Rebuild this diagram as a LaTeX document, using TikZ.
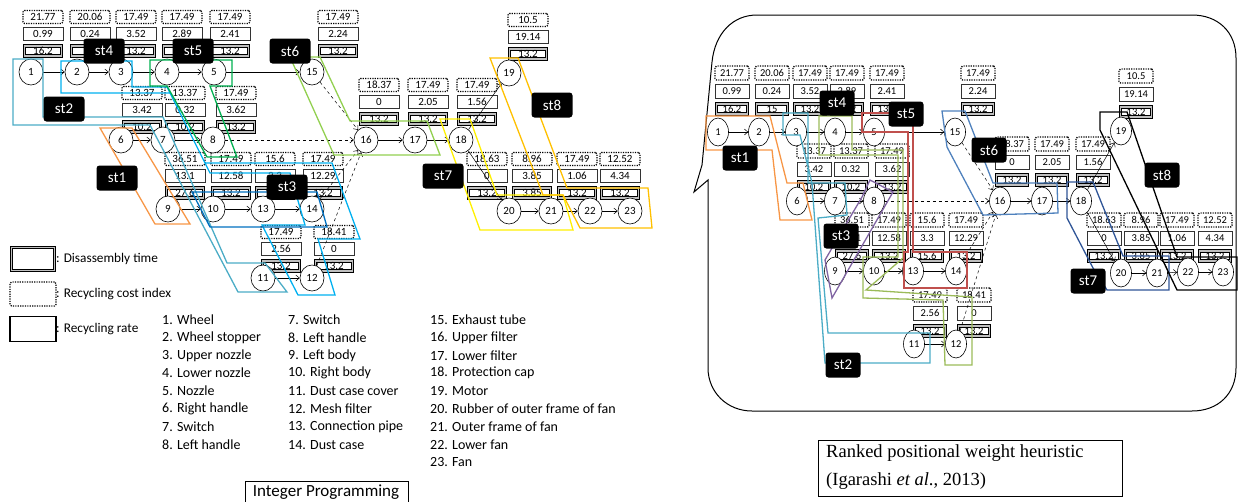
\documentclass[tikz,border=0pt]{standalone}
\usepackage{fontspec}
\setmainfont{Carlito}
\newfontfamily\tnr{Liberation Serif}
\usetikzlibrary{shapes.geometric,arrows.meta}
\definecolor{cA}{HTML}{F79646}
\definecolor{cB}{HTML}{4BACC6}
\definecolor{cC}{HTML}{0070C0}
\definecolor{cD}{HTML}{00B0F0}
\definecolor{cE}{HTML}{00B050}
\definecolor{cF}{HTML}{92D050}
\definecolor{cG}{HTML}{FFF000}
\definecolor{cH}{HTML}{FFC000}
\definecolor{rC}{HTML}{8064A2}
\definecolor{rD}{HTML}{9BBB59}
\definecolor{rE}{HTML}{C0504D}
\definecolor{rF}{HTML}{4F81BD}
\definecolor{rG}{HTML}{2F5597}
\newcommand\tripL[6]{%
 \node[dbox,minimum width=37pt,font=\fontsize{11}{11}\selectfont] (#1d) at (#2,#3) {#6};
 \node[mbox,minimum width=40pt,font=\fontsize{11}{11}\selectfont] (#1m) at (#2,#3-17) {#5};
 \node[cbox,minimum width=40pt,font=\fontsize{11}{11}\selectfont] (#1c) at (#2,#3-34) {#4};}
\newcommand\tripR[6]{%
 \node[dbox,minimum width=31pt,minimum height=10pt] (#1d) at (#2,#3) {#6};
 \node[mbox,minimum width=34pt,minimum height=14pt] (#1m) at (#2,#3-18) {#5};
 \node[cbox,minimum width=34pt,minimum height=14pt] (#1c) at (#2,#3-36) {#4};}
\begin{document}
\begin{tikzpicture}[x=1pt,y=-1pt,
 nd/.style={draw,ellipse,line width=0.6pt,minimum width=24pt,minimum height=26pt,inner sep=0pt,font=\fontsize{11}{11}\selectfont,fill=white},
 ndr/.style={nd,minimum width=21pt,minimum height=28pt,font=\fontsize{10.5}{10.5}\selectfont},
 arr/.style={-{Straight Barb[length=3.5pt,width=6pt]},line width=0.5pt},
 darr/.style={arr,dashed},
 dbox/.style={draw=black,line width=0.8pt,double=gray!50,double distance=1.6pt,minimum height=10pt,inner sep=0pt,font=\fontsize{10.5}{10.5}\selectfont},
 mbox/.style={draw=black!80,line width=0.8pt,minimum height=13pt,inner sep=0pt,font=\fontsize{10.5}{10.5}\selectfont},
 cbox/.style={draw=black,line width=1.4pt,dash pattern=on 1.2pt off 1.2pt,rounded corners=1.5pt,minimum height=13pt,inner sep=0pt,font=\fontsize{10.5}{10.5}\selectfont},
 lbl/.style={fill=black,text=white,rounded corners=3pt,minimum width=41pt,minimum height=25pt,inner sep=0pt,font=\fontsize{15}{15}\selectfont},
 lblr/.style={lbl,minimum width=35pt},
 st/.style={line width=1.3pt},
 txt/.style={anchor=west,inner sep=0pt,font=\fontsize{14}{14}\selectfont},
 lgt/.style={anchor=west,inner sep=0pt,font=\fontsize{13.3}{13.3}\selectfont}]
\useasboundingbox (0,0) rectangle (1238,501);
% ================= LEFT PANEL =================
\tripL{Lb1}{43}{51}{21.77}{0.99}{16.2}
\tripL{Lb2}{90}{51}{20.06}{0.24}{15}
\tripL{Lb3}{136}{51}{17.49}{3.52}{13.2}
\tripL{Lb4}{182}{51}{17.49}{2.89}{13.2}
\tripL{Lb5}{230}{51}{17.49}{2.41}{13.2}
\tripL{Lb15}{338}{51}{17.49}{2.24}{13.2}
\tripL{Lb19}{528}{54}{10.5}{19.14}{13.2}
\tripL{Lb6}{142}{127}{13.37}{3.42}{10.2}
\tripL{Lb7}{185}{127}{13.37}{0.32}{10.2}
\tripL{Lb8}{236}{127}{17.49}{3.62}{13.2}
\tripL{Lb16}{379}{119}{18.37}{0}{13.2}
\tripL{Lb17}{428}{119}{17.49}{2.05}{13.2}
\tripL{Lb18}{477}{119}{17.49}{1.56}{13.2}
\tripL{Lb9}{185}{193}{36.51}{13.1}{27.6}
\tripL{Lb10}{231}{193}{17.49}{12.58}{13.2}
\tripL{Lb13}{275}{193}{15.6}{3.3}{15.6}
\tripL{Lb14}{323}{193}{17.49}{12.29}{13.2}
\tripL{Lb20}{487}{193}{18.63}{0}{13.2}
\tripL{Lb21}{532}{193}{8.96}{3.85}{3.85}
\tripL{Lb22}{577}{193}{17.49}{1.06}{13.2}
\tripL{Lb23}{620}{193}{12.52}{4.34}{13.2}
\tripL{Lb11}{281}{266}{17.49}{2.56}{13.2}
\tripL{Lb12}{334}{266}{18.41}{0}{13.2}
\node[nd] (L1) at (31,72) {1};
\node[nd] (L2) at (77,72) {2};
\node[nd] (L3) at (121,72) {3};
\node[nd] (L4) at (167,72) {4};
\node[nd] (L5) at (214,72) {5};
\node[nd] (L15) at (312,72) {15};
\node[nd] (L19) at (509,73) {19};
\node[nd] (L6) at (121,140) {6};
\node[nd] (L7) at (163,140) {7};
\node[nd] (L8) at (213,140) {8};
\node[nd] (L16) at (366,140) {16};
\node[nd] (L17) at (415,140) {17};
\node[nd] (L18) at (461,140) {18};
\node[nd] (L9) at (168,209) {9};
\node[nd] (L10) at (213,209) {10};
\node[nd] (L13) at (263,209) {13};
\node[nd] (L14) at (312,209) {14};
\node[nd] (L20) at (509,211) {20};
\node[nd] (L21) at (551,211) {21};
\node[nd] (L22) at (590,211) {22};
\node[nd] (L23) at (630,211) {23};
\node[nd] (L11) at (263,278) {11};
\node[nd] (L12) at (312,278) {12};
\draw[arr] (L1)--(L2); \draw[arr] (L2)--(L3); \draw[arr] (L3)--(L4); \draw[arr] (L4)--(L5); \draw[arr] (L5)--(L15);
\draw[arr] (L6)--(L7); \draw[arr] (L7)--(L8);
\draw[darr] (L8)--(L16); \draw[darr] (L15)--(L16); \draw[darr] (L14)--(L16); \draw[darr] (L12)--(L16);
\draw[arr] (L16)--(L17); \draw[arr] (L17)--(L18);
\draw[arr] (L18)--(L19); \draw[arr] (L18)--(L20);
\draw[arr] (L9)--(L10); \draw[arr] (L10)--(L13); \draw[arr] (L13)--(L14);
\draw[arr] (L11)--(L12);
\draw[arr] (L20)--(L21); \draw[arr] (L21)--(L22); \draw[arr] (L22)--(L23);
% stations left
\draw[st,cA] (100,128)--(132,128)--(190,224)--(155,224)--cycle;
\draw[st,cB] (13,59)--(43,59)--(43,117)--(163,117)--(227,263)--(265,263)--(287,292)--(238,292)--(150,125)--(13,125)--cycle;
\draw[st,cD] (61,61)--(132,61)--(132,87)--(167,87)--(205,163)--(332,163)--(360,239)--(318,239)--(335,295)--(298,295)--(262,225)--(305,225)--(290,173)--(210,173)--(170,93)--(61,93)--cycle;
\draw[st,cC] (192,192)--(317,192)--(327,227)--(210,227)--cycle;
\draw[st,cE] (150,60)--(232,60)--(232,86)--(210,86)--(237,157)--(207,157)--(167,86)--(150,86)--cycle;
\draw[st,cF] (290,57)--(320,57)--(350,121)--(427,121)--(440,155)--(334,155)--cycle;
\draw[st,cG] (440,119)--(470,119)--(497,195)--(563,195)--(573,230)--(480,230)--cycle;
\draw[st,cH] (490,58)--(518,58)--(567,188)--(648,188)--(652,228)--(580,228)--(563,195)--(543,195)--cycle;
\node[lbl] (Ls1) at (117,178) {st1};
\node[lbl] (Ls2) at (64,109) {st2};
\node[lbl] (Ls3) at (287,187) {st3};
\node[lbl] (Ls4) at (104,51) {st4};
\node[lbl] (Ls5) at (193,51) {st5};
\node[lbl] (Ls6) at (290,51) {st6};
\node[lbl] (Ls7) at (443,176) {st7};
\node[lbl] (Ls8) at (552,105) {st8};
% legend
\node[dbox,minimum width=43pt,minimum height=23pt] (LgA) at (33,259) {};
\node[cbox,minimum width=46pt,minimum height=24pt] (LgB) at (33,294) {};
\node[draw,line width=1.4pt,minimum width=46pt,minimum height=25pt,inner sep=0pt] (LgC) at (33,329) {};
\node[lgt] (LgAt) at (56,259) {: Disassembly time};
\node[lgt] (LgBt) at (56,294) {: Recycling cost index};
\node[lgt] (LgCt) at (56,329) {: Recycling rate};
\node[txt] (p1) at (162,320) {1. Wheel};
\node[txt] (p2) at (162,338) {2. Wheel stopper};
\node[txt] (p3) at (162,356) {3. Upper nozzle};
\node[txt] (p4) at (162,373) {4. Lower nozzle};
\node[txt] (p5) at (162,391) {5. Nozzle};
\node[txt] (p6) at (162,409) {6. Right handle};
\node[txt] (p7) at (162,427) {7. Switch};
\node[txt] (p8) at (162,445) {8. Left handle};
\node[txt] (p9) at (288,320) {7. Switch};
\node[txt] (p10) at (288,338) {8. Left handle};
\node[txt] (p11) at (288,356) {9. Left body};
\node[txt] (p12) at (288,373) {10. Right body};
\node[txt] (p13) at (288,391) {11. Dust case cover};
\node[txt] (p14) at (288,409) {12. Mesh filter};
\node[txt] (p15) at (288,427) {13. Connection pipe};
\node[txt] (p16) at (288,445) {14. Dust case};
\node[txt] (p17) at (430,320) {15. Exhaust tube};
\node[txt] (p18) at (430,338) {16. Upper filter};
\node[txt] (p19) at (430,356) {17. Lower filter};
\node[txt] (p20) at (430,373) {18. Protection cap};
\node[txt] (p21) at (430,391) {19. Motor};
\node[txt] (p22) at (430,409) {20. Rubber of outer frame of fan};
\node[txt] (p23) at (430,427) {21. Outer frame of fan};
\node[txt] (p24) at (430,445) {22. Lower fan};
\node[txt] (p25) at (430,462) {23. Fan};
\node[draw,line width=0.7pt,anchor=north west,minimum width=163pt,minimum height=26pt,inner sep=0pt] (IPb) at (245,481) {};
\node[font=\fontsize{17}{17}\selectfont] (IP) at (326,492) {Integer Programming};
% ================= RIGHT PANEL =================
\draw[line width=1pt] (757,15) -- (1192,15) .. controls (1218,15) and (1236,32) .. (1236,58) -- (1236,368) .. controls (1236,394) and (1218,411) .. (1192,411) -- (752,411) .. controls (727,411) and (708,392) .. (708,368) -- (708,180) -- (694,192) -- (702,165) -- (712,62) .. controls (715,33) and (733,15) .. (757,15) -- cycle;
\tripR{Rb1}{732}{109}{21.77}{0.99}{16.2}
\tripR{Rb2}{772}{109}{20.06}{0.24}{15}
\tripR{Rb3}{810}{109}{17.49}{3.52}{13.2}
\tripR{Rb4}{847}{109}{17.49}{2.89}{13.2}
\tripR{Rb5}{887}{109}{17.49}{2.41}{13.2}
\tripR{Rb15}{978}{109}{17.49}{2.24}{13.2}
\tripR{Rb19}{1136}{112}{10.5}{19.14}{13.2}
\tripR{Rb6}{814}{187}{13.37}{3.42}{10.2}
\tripR{Rb7}{851}{187}{13.37}{0.32}{10.2}
\tripR{Rb8}{892}{187}{17.49}{3.62}{13.2}
\tripR{Rb16}{1012}{180}{18.37}{0}{13.2}
\tripR{Rb17}{1052}{180}{17.49}{2.05}{13.2}
\tripR{Rb18}{1093}{180}{17.49}{1.56}{13.2}
\tripR{Rb9}{852}{256}{36.51}{13.1}{27.6}
\tripR{Rb10}{889}{256}{17.49}{12.58}{13.2}
\tripR{Rb13}{927}{256}{15.6}{3.3}{15.6}
\tripR{Rb14}{966}{256}{17.49}{12.29}{13.2}
\tripR{Rb20}{1104}{256}{18.63}{0}{13.2}
\tripR{Rb21}{1141}{256}{8.96}{3.85}{3.85}
\tripR{Rb22}{1177}{256}{17.49}{1.06}{13.2}
\tripR{Rb23}{1215}{256}{12.52}{4.34}{13.2}
\tripR{Rb11}{930}{331}{17.49}{2.56}{13.2}
\tripR{Rb12}{974}{331}{18.41}{0}{13.2}
\node[ndr] (R1) at (718,132) {1};
\node[ndr] (R2) at (759,132) {2};
\node[ndr] (R3) at (796,132) {3};
\node[ndr] (R4) at (835,132) {4};
\node[ndr] (R5) at (874,132) {5};
\node[ndr] (R15) at (955,132) {15};
\node[ndr] (R19) at (1121,131) {19};
\node[ndr] (R6) at (797,201) {6};
\node[ndr] (R7) at (835,201) {7};
\node[ndr] (R8) at (874,201) {8};
\node[ndr] (R16) at (1000,201) {16};
\node[ndr] (R17) at (1042,201) {17};
\node[ndr] (R18) at (1081,201) {18};
\node[ndr] (R9) at (835,271) {9};
\node[ndr] (R10) at (874,271) {10};
\node[ndr] (R13) at (913,271) {13};
\node[ndr] (R14) at (956,271) {14};
\node[ndr] (R20) at (1121,273) {20};
\node[ndr] (R21) at (1157,273) {21};
\node[ndr] (R22) at (1188,272) {22};
\node[ndr] (R23) at (1223,272) {23};
\node[ndr] (R11) at (914,344) {11};
\node[ndr] (R12) at (956,344) {12};
\draw[arr] (R1)--(R2); \draw[arr] (R2)--(R3); \draw[arr] (R3)--(R4); \draw[arr] (R4)--(R5); \draw[arr] (R5)--(R15);
\draw[arr] (R6)--(R7); \draw[arr] (R7)--(R8);
\draw[darr] (R8)--(R16); \draw[darr] (R15)--(R16); \draw[darr] (R14)--(R16); \draw[darr] (R12)--(R16);
\draw[arr] (R16)--(R17); \draw[arr] (R17)--(R18);
\draw[arr] (R18)--(R19); \draw[arr] (R18)--(R20);
\draw[arr] (R9)--(R10); \draw[arr] (R10)--(R13); \draw[arr] (R13)--(R14);
\draw[arr] (R11)--(R12);
\draw[arr] (R20)--(R21); \draw[arr] (R21)--(R22); \draw[arr] (R22)--(R23);
% stations right
\draw[st,cA] (706,116)--(770,116)--(787,183)--(803,183)--(812,220)--(780,220)--(772,150)--(706,150)--cycle;
\draw[st,cB] (783,113)--(808,113)--(808,183)--(845,183)--(847,215)--(818,218)--(828,333)--(930,333)--(930,363)--(825,363)--(812,183)--(800,135)--(783,135)--cycle;
\draw[st,rC] (870,180)--(893,192)--(832,298)--(825,260)--(862,197)--cycle;
\draw[st,rD] (819,116)--(852,116)--(852,150)--(903,150)--(903,258)--(866,290)--(972,297)--(972,365)--(945,365)--(943,300)--(863,298)--(863,257)--(898,257)--(898,155)--(819,155)--cycle;
\draw[st,rE] (862,113)--(913,113)--(913,252)--(967,252)--(967,288)--(904,288)--(904,252)--(908,252)--(908,132)--(862,132)--cycle;
\draw[st,rF] (942,111)--(965,111)--(993,183)--(1057,183)--(1058,213)--(983,215)--(947,147)--cycle;
\draw[st,rG] (1067,182)--(1093,182)--(1123,256)--(1169,256)--(1169,290)--(1107,290)--(1093,268)--(1067,218)--cycle;
\draw[st,black] (1100,112)--(1127,112)--(1177,257)--(1237,257)--(1237,290)--(1177,290)--(1100,130)--cycle;
\node[lblr] (Rs1) at (740,158) {st1};
\node[lblr] (Rs2) at (843,365) {st2};
\node[lblr] (Rs3) at (841,236) {st3};
\node[lblr] (Rs4) at (837,103) {st4};
\node[lblr] (Rs5) at (906,114) {st5};
\node[lblr] (Rs6) at (989,150) {st6};
\node[lblr] (Rs7) at (1088,281) {st7};
\node[lblr] (Rs8) at (1162,175) {st8};
\node[draw,line width=0.8pt,anchor=north west,minimum width=304pt,minimum height=56pt,inner sep=0pt] (RPb) at (818,440) {};
\node[anchor=north west,align=left,inner sep=0pt,font=\tnr\fontsize{18.5}{28}\selectfont] (RP) at (826,444) {Ranked positional weight heuristic\\(Igarashi \emph{et al}., 2013)};
\end{tikzpicture}
\end{document}
